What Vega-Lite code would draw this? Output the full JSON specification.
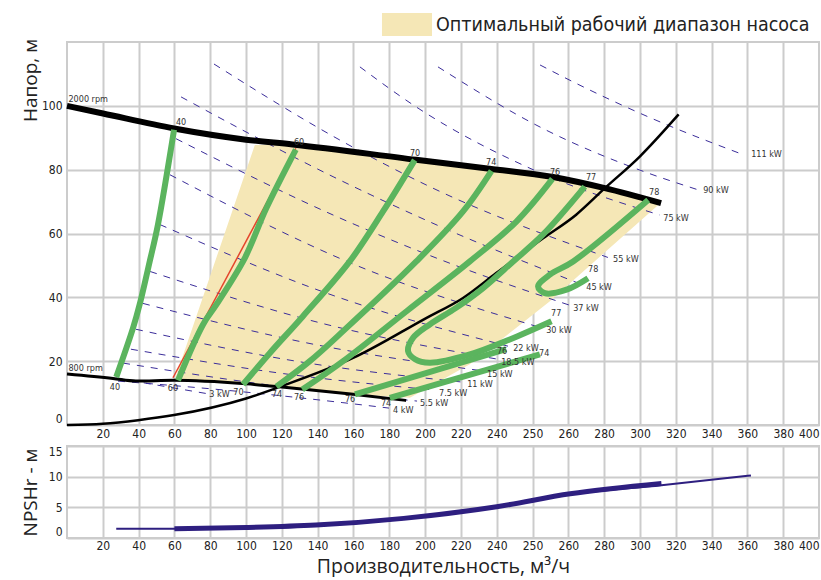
{
  "$schema": "https://vega.github.io/schema/vega-lite/v6.json",
  "padding": {"left": 20, "top": 12, "right": 0, "bottom": 0},
  "background": "white",
  "spacing": 4,
  "config": {
    "view": {"stroke": "#cccccc", "strokeWidth": 2},
    "axis": {"gridColor": "#cccccc", "gridWidth": 2, "domain": false, "ticks": false, "labelOverlap": false, "labelFont": "DejaVu Sans Condensed, Roboto, sans-serif", "labelFontSize": 12, "labelColor": "#222222", "titleFont": "Open Sans", "titleFontWeight": "normal", "titleFontSize": 19, "titleColor": "#222222"},
    "text": {"font": "DejaVu Sans Condensed, Roboto, sans-serif", "fontSize": 9, "color": "#333333", "baseline": "middle"}
  },
  "datasets": {
    "rpm2000": [{"x":0,"y":100},{"x":20.1,"y":97.6},{"x":59.8,"y":92.9},{"x":100,"y":89.4},{"x":126,"y":87.9},{"x":195,"y":83.1},{"x":236,"y":80.3},{"x":271.5,"y":77.7},{"x":300.4,"y":74.2},{"x":331.8,"y":69.5}],
    "rpm800": [{"x":0,"y":16},{"x":25.7,"y":14.6},{"x":38.5,"y":13.8},{"x":59.8,"y":14},{"x":100,"y":12.9},{"x":120,"y":11.9},{"x":159.8,"y":9.6},{"x":189.4,"y":7.7}],
    "system": [{"x":0,"y":0},{"x":20,"y":0.4},{"x":39.7,"y":1.5},{"x":59.8,"y":3.1},{"x":100,"y":8.3},{"x":120.1,"y":12.2},{"x":159.8,"y":21},{"x":200.6,"y":33.5},{"x":221.2,"y":39.8},{"x":239.7,"y":47.6},{"x":265.9,"y":58.5},{"x":284.4,"y":65.9},{"x":300.4,"y":74.2},{"x":319.9,"y":84.1},{"x":341.6,"y":97.3}],
    "red": [{"x":127.8,"y":86.7},{"x":59.2,"y":14.8}],
    "zone": [{"i":0,"x":104.9,"y":87.7},{"i":1,"x":126,"y":87.9},{"i":2,"x":195,"y":83.1},{"i":3,"x":236,"y":80.3},{"i":4,"x":271.5,"y":77.7},{"i":5,"x":300.4,"y":74.2},{"i":6,"x":331,"y":69.3},{"i":7,"x":288.3,"y":48.1},{"i":8,"x":269.7,"y":38.75},{"i":9,"x":250.8,"y":30.4},{"i":10,"x":225,"y":19},{"i":11,"x":191.5,"y":8.5},{"i":12,"x":159.8,"y":9.6},{"i":13,"x":120,"y":11.9},{"i":14,"x":100,"y":12.9},{"i":15,"x":60.3,"y":14.4},{"i":16,"x":104.9,"y":87.7}],
    "eff": [
      {"e":"40","i":0,"x":59.8,"y":92.5},{"e":"40","i":1,"x":50.8,"y":62.8},{"e":"40","i":2,"x":46.2,"y":51.25},{"e":"40","i":3,"x":40.6,"y":37.8},{"e":"40","i":4,"x":36.9,"y":30.4},{"e":"40","i":5,"x":27.5,"y":15},
      {"e":"60","i":0,"x":127.8,"y":86.3},{"e":"60","i":1,"x":111.3,"y":67.9},{"e":"60","i":2,"x":99.3,"y":52.3},{"e":"60","i":3,"x":83.4,"y":37.7},{"e":"60","i":4,"x":76,"y":31.5},{"e":"60","i":5,"x":62,"y":14},
      {"e":"70","i":0,"x":194.2,"y":83},{"e":"70","i":1,"x":176.5,"y":66.9},{"e":"70","i":2,"x":157.9,"y":51.25},{"e":"70","i":3,"x":131.8,"y":34.1},{"e":"70","i":4,"x":113.2,"y":22.5},{"e":"70","i":5,"x":98.3,"y":12.7},
      {"e":"74","i":0,"x":237.1,"y":79.6},{"e":"74","i":1,"x":221.2,"y":66.9},{"e":"74","i":2,"x":195.1,"y":51.25},{"e":"74","i":3,"x":154.2,"y":29.4},{"e":"74","i":4,"x":135.6,"y":20},{"e":"74","i":5,"x":116.9,"y":12},
      {"e":"76","i":0,"x":271.1,"y":77.1},{"e":"76","i":1,"x":251,"y":63.75},{"e":"76","i":2,"x":225,"y":51.25},{"e":"76","i":3,"x":190,"y":35.8},{"e":"76","i":4,"x":154.2,"y":20},{"e":"76","i":5,"x":131.4,"y":11.1},
      {"e":"77","i":0,"x":289.2,"y":74.7},{"e":"77","i":1,"x":265.9,"y":59.7},{"e":"77","i":2,"x":249.2,"y":51.25},{"e":"77","i":3,"x":232.4,"y":42.9},{"e":"77","i":4,"x":217.3,"y":36.7},{"e":"77","i":5,"x":202.6,"y":31.5},{"e":"77","i":6,"x":193.3,"y":27.3},{"e":"77","i":7,"x":190.5,"y":23.1},{"e":"77","i":8,"x":194.4,"y":20.6},{"e":"77","i":9,"x":202.6,"y":19.5},{"e":"77","i":10,"x":225,"y":22.1},{"e":"77","i":11,"x":247.3,"y":26.8},{"e":"77","i":12,"x":270.6,"y":32.5},
      {"e":"78","i":0,"x":324.6,"y":70.5},{"e":"78","i":1,"x":282.7,"y":51.25},{"e":"78","i":2,"x":269.7,"y":47.1},{"e":"78","i":3,"x":263.1,"y":43.4},{"e":"78","i":4,"x":266.9,"y":41.3},{"e":"78","i":5,"x":279,"y":42.4},{"e":"78","i":6,"x":291,"y":46},
      {"e":"76b","i":0,"x":160.8,"y":9.6},{"e":"76b","i":1,"x":245.3,"y":23.75},
      {"e":"74b","i":0,"x":180.3,"y":8.5},{"e":"74b","i":1,"x":264.1,"y":22.1}
    ],
    "power": [
      {"p":"111","x":264.2,"y":112.8},{"p":"111","x":284.5,"y":107},{"p":"111","x":327.3,"y":95.9},{"p":"111","x":375.8,"y":85.1},
      {"p":"90","x":207.2,"y":112.2},{"p":"90","x":265.8,"y":92.9},{"p":"90","x":319.8,"y":79.9},{"p":"90","x":352.4,"y":73.7},
      {"p":"75","x":163.6,"y":112.2},{"p":"75","x":194.9,"y":99.7},{"p":"75","x":260.3,"y":80},{"p":"75","x":331,"y":65.8},
      {"p":"55","x":82.1,"y":113.1},{"p":"55","x":154.1,"y":88.75},{"p":"55","x":204.4,"y":74.2},{"p":"55","x":302.1,"y":52.5},
      {"p":"45","x":63.7,"y":102.8},{"p":"45","x":148.6,"y":77.8},{"p":"45","x":204.4,"y":63.2},{"p":"45","x":287.1,"y":44.1},
      {"p":"37","x":60.9,"y":89.7},{"p":"37","x":148.6,"y":65.8},{"p":"37","x":215.6,"y":50.3},{"p":"37","x":280.9,"y":37.5},
      {"p":"30","x":57.5,"y":78.4},{"p":"30","x":161.7,"y":50},{"p":"30","x":265.8,"y":30.3},
      {"p":"22","x":51.9,"y":62.8},{"p":"22","x":149.1,"y":40.5},{"p":"22","x":246.3,"y":24.7},
      {"p":"18.5","x":46.4,"y":48.1},{"p":"18.5","x":143.5,"y":31.7},{"p":"18.5","x":240.7,"y":20.6},
      {"p":"15","x":42.4,"y":38.1},{"p":"15","x":137.7,"y":25.3},{"p":"15","x":232.9,"y":16.9},
      {"p":"11","x":38.5,"y":30},{"p":"11","x":130.1,"y":19.8},{"p":"11","x":221.7,"y":13.4},
      {"p":"7.5","x":35.7,"y":23.75},{"p":"7.5","x":120.9,"y":16.1},{"p":"7.5","x":206.1,"y":10.9},
      {"p":"5.5","x":31.3,"y":19.4},{"p":"5.5","x":113.4,"y":12.5},{"p":"5.5","x":195.5,"y":7.5},
      {"p":"4","x":28.5,"y":13.75},{"p":"4","x":94.4,"y":10.6},{"p":"4","x":154.1,"y":7},{"p":"4","x":179.8,"y":5.3},
      {"p":"3","x":27.4,"y":14.7},{"p":"3","x":78.5,"y":9.8}
    ],
    "labC": [
      {"t":"40","x":63.7,"y":95},{"t":"60","x":129.6,"y":88.75},{"t":"70","x":194.4,"y":85.3},{"t":"74","x":236.9,"y":82.5},{"t":"76","x":272.6,"y":79.4},{"t":"77","x":292.7,"y":77.8},{"t":"78","x":328,"y":73.1},
      {"t":"40","x":26.8,"y":11.9},{"t":"60","x":59.2,"y":11.6},{"t":"70","x":95.8,"y":10.2},{"t":"74","x":117.3,"y":9.7},{"t":"76","x":129.6,"y":8.75},{"t":"76","x":158.1,"y":8.1},{"t":"74","x":178.2,"y":6.9},
      {"t":"77","x":273.2,"y":35},{"t":"76","x":243,"y":23.1},{"t":"74","x":266.5,"y":22.5},{"t":"78","x":293.9,"y":48.75}
    ],
    "labL": [
      {"t":"2000 rpm","x":0.8,"y":102.2},{"t":"800 rpm","x":0.8,"y":17.8},
      {"t":"111 kW","x":382.1,"y":85},{"t":"90 kW","x":355.3,"y":73.75},{"t":"75 kW","x":333,"y":65},{"t":"55 kW","x":305,"y":51.9},{"t":"45 kW","x":290,"y":43.1},{"t":"37 kW","x":282.7,"y":36.6},{"t":"30 kW","x":267.6,"y":29.7},{"t":"22 kW","x":249.2,"y":24.1},{"t":"18.5 kW","x":242.5,"y":19.7},{"t":"15 kW","x":234.6,"y":15.9},{"t":"11 kW","x":223.5,"y":12.8},{"t":"7.5 kW","x":207.8,"y":10},{"t":"5.5 kW","x":197.2,"y":6.9},{"t":"4 kW","x":182.1,"y":4.7},{"t":"3 kW","x":79.5,"y":9.6}
    ],
    "npshThin": [{"x":27.5,"y":1.5},{"x":60,"y":1.5},{"x":100,"y":1.6},{"x":139,"y":2},{"x":188,"y":3.1},{"x":240,"y":5},{"x":281,"y":7.1},{"x":332,"y":8.6},{"x":382,"y":10.2}],
    "npshThick": [{"x":60,"y":1.5},{"x":100,"y":1.7},{"x":139,"y":2.1},{"x":188,"y":3.2},{"x":240,"y":5.1},{"x":281,"y":7.2},{"x":332,"y":8.9}]
  },
  "vconcat": [
    {
      "width": 752,
      "height": 383,
      "encoding": {
        "x": {"field": "x", "type": "quantitative", "scale": {"domain": [0, 420], "nice": false, "zero": false},
              "axis": {"title": null, "values": [20,40,60,80,100,120,140,160,180,200,220,240,260,280,300,320,340,360,380,400,420], "labelExpr": "datum.value <= 240 ? datum.label : (datum.value == 260 ? '250' : '' + (datum.value - 20))", "labelFlush": true, "labelPadding": 3}},
        "y": {"field": "y", "type": "quantitative", "scale": {"domain": [0, 120], "nice": false},
              "axis": {"title": "Напор, м", "values": [0,20,40,60,80,100], "labelFlush": true, "labelPadding": 5, "titleX": -27, "titleY": 38, "titleAlign": "center", "titleAngle": -90}}
      },
      "layer": [
        {
          "data": {"name": "zone"},
          "mark": {"type": "line", "strokeWidth": 0, "interpolate": "linear"},
          "encoding": {
            "order": {"field": "i", "type": "quantitative"},
            "fill": {"datum": "Оптимальный рабочий диапазон насоса", "type": "nominal",
                     "scale": {"range": ["#f5e7b6"]},
                     "legend": {"orient": "none", "legendX": 342, "legendY": -29, "title": null, "symbolType": "M-3.35,-1H1V1H-3.35Z", "symbolSize": 529, "symbolStrokeWidth": 0, "labelFont": "DejaVu Sans Condensed, Roboto, sans-serif", "labelFontSize": 19.5, "labelColor": "#222222", "labelLimit": 600, "labelOffset": 4, "padding": 0}}
          }
        },
        {
          "data": {"name": "power"},
          "mark": {"type": "line", "color": "#3b2d9a", "strokeWidth": 1, "strokeDash": [7, 7], "interpolate": "monotone"},
          "encoding": {"detail": {"field": "p", "type": "nominal"}}
        },
        {
          "data": {"name": "system"},
          "mark": {"type": "line", "color": "#000000", "strokeWidth": 2.5, "interpolate": "monotone"},
          "encoding": {}
        },
        {
          "data": {"name": "rpm800"},
          "mark": {"type": "line", "color": "#000000", "strokeWidth": 3, "interpolate": "monotone"},
          "encoding": {}
        },
        {
          "data": {"name": "rpm2000"},
          "mark": {"type": "line", "color": "#000000", "strokeWidth": 6, "interpolate": "monotone"},
          "encoding": {}
        },
        {
          "data": {"name": "red"},
          "mark": {"type": "line", "color": "#e4452b", "strokeWidth": 1.5},
          "encoding": {}
        },
        {
          "data": {"name": "eff"},
          "mark": {"type": "line", "color": "#5bb45e", "strokeWidth": 6, "interpolate": "catmull-rom"},
          "encoding": {"detail": {"field": "e", "type": "nominal"}, "order": {"field": "i", "type": "quantitative"}}
        },
        {
          "data": {"name": "labC"},
          "mark": {"type": "text", "align": "center"},
          "encoding": {"text": {"field": "t"}}
        },
        {
          "data": {"name": "labL"},
          "mark": {"type": "text", "align": "left"},
          "encoding": {"text": {"field": "t"}}
        }
      ]
    },
    {
      "width": 752,
      "height": 92,
      "encoding": {
        "x": {"field": "x", "type": "quantitative", "scale": {"domain": [0, 420], "nice": false, "zero": false},
              "axis": {"title": "Производительность, м³/ч", "titleFontSize": 19.5, "titlePadding": 6, "values": [20,40,60,80,100,120,140,160,180,200,220,240,260,280,300,320,340,360,380,400,420], "labelExpr": "datum.value <= 240 ? datum.label : (datum.value == 260 ? '250' : '' + (datum.value - 20))", "labelFlush": true, "labelPadding": 2}},
        "y": {"field": "y", "type": "quantitative", "scale": {"domain": [0, 15], "nice": false},
              "axis": {"title": "NPSHr - м", "values": [0,5,10,15], "labelFlush": true, "labelPadding": 5, "titleX": -27, "titleY": 46, "titleAlign": "center", "titleAngle": -90}}
      },
      "layer": [
        {
          "data": {"name": "npshThin"},
          "mark": {"type": "line", "color": "#2e1f80", "strokeWidth": 2, "interpolate": "monotone"},
          "encoding": {}
        },
        {
          "data": {"name": "npshThick"},
          "mark": {"type": "line", "color": "#2e1f80", "strokeWidth": 5, "interpolate": "monotone"},
          "encoding": {}
        }
      ]
    }
  ],
  "resolve": {"scale": {"x": "independent", "y": "independent"}, "legend": {"fill": "independent"}}
}
